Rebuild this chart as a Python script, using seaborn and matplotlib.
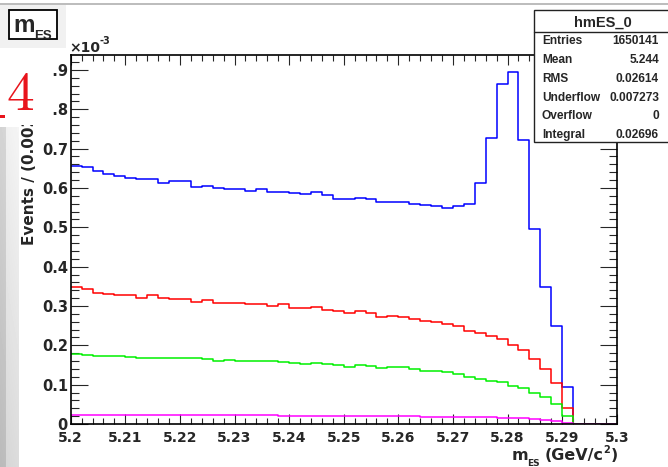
import numpy as np
import pandas as pd
import seaborn as sns
import matplotlib
matplotlib.use("Agg")
import matplotlib.pyplot as plt
from matplotlib.patches import Rectangle
from matplotlib.lines import Line2D
from matplotlib.ticker import MultipleLocator, FixedLocator, FixedFormatter

# ---- binning: 50 bins of 0.002 GeV/c^2 ----
mes_lo, mes_hi, n_bins = 5.20, 5.30, 50

# ---- bin contents (units of 1e-3 events per bin) ----
hmES_0 = [0.656, 0.654, 0.643, 0.636, 0.631, 0.625, 0.622, 0.622, 0.613, 0.617,
          0.617, 0.603, 0.606, 0.600, 0.598, 0.598, 0.592, 0.597, 0.590, 0.590,
          0.588, 0.584, 0.590, 0.582, 0.571, 0.571, 0.575, 0.573, 0.565, 0.565,
          0.565, 0.559, 0.557, 0.555, 0.549, 0.553, 0.560, 0.612, 0.727, 0.865,
          0.896, 0.723, 0.496, 0.347, 0.249, 0.095, 0.0, 0.0, 0.0, 0.0]
hmES_1 = [0.347, 0.343, 0.333, 0.331, 0.329, 0.327, 0.320, 0.327, 0.320, 0.317,
          0.319, 0.310, 0.314, 0.307, 0.307, 0.307, 0.304, 0.305, 0.300, 0.304,
          0.295, 0.295, 0.298, 0.291, 0.288, 0.282, 0.288, 0.283, 0.273, 0.274,
          0.271, 0.266, 0.263, 0.260, 0.255, 0.249, 0.237, 0.232, 0.223, 0.215,
          0.202, 0.188, 0.164, 0.139, 0.105, 0.040, 0.0, 0.0, 0.0, 0.0]
hmES_2 = [0.178, 0.176, 0.174, 0.173, 0.173, 0.171, 0.168, 0.169, 0.167, 0.167,
          0.167, 0.167, 0.164, 0.161, 0.163, 0.160, 0.160, 0.160, 0.160, 0.157,
          0.155, 0.152, 0.156, 0.152, 0.150, 0.146, 0.150, 0.148, 0.142, 0.144,
          0.144, 0.140, 0.134, 0.135, 0.131, 0.127, 0.119, 0.114, 0.109, 0.107,
          0.097, 0.091, 0.080, 0.068, 0.052, 0.020, 0.0, 0.0, 0.0, 0.0]
hmES_3 = [0.023, 0.022, 0.023, 0.023, 0.022, 0.022, 0.023, 0.022, 0.022, 0.023,
          0.022, 0.022, 0.022, 0.022, 0.023, 0.023, 0.022, 0.022, 0.022, 0.021,
          0.021, 0.021, 0.021, 0.020, 0.020, 0.021, 0.020, 0.020, 0.021, 0.020,
          0.020, 0.020, 0.019, 0.019, 0.019, 0.018, 0.018, 0.017, 0.017, 0.016,
          0.015, 0.014, 0.013, 0.010, 0.007, 0.003, 0.0, 0.0, 0.0, 0.0]
series_names = ["hmES_0", "hmES_1", "hmES_2", "hmES_3"]
series_colors = ["#0000ff", "#ff0000", "#00f000", "#ff00ff"]

# ---- axis ticks ----
x_ticks = [5.20, 5.21, 5.22, 5.23, 5.24, 5.25, 5.26, 5.27, 5.28, 5.29, 5.30]
x_ticklabels = ["5.2", "5.21", "5.22", "5.23", "5.24", "5.25", "5.26",
                "5.27", "5.28", "5.29", "5.3"]
y_ticks = [0.0, 0.1, 0.2, 0.3, 0.4, 0.5, 0.6, 0.7, 0.8, 0.9]
y_ticklabels = ["0", "0.1", "0.2", "0.3", "0.4", "0.5", "0.6", "0.7", "0.8", "0.9"]
y_max = 0.938

# ---- statistics box ----
stats_title = "hmES_0"
stats_rows = [("Entries", "1650141"), ("Mean", "5.244"), ("RMS", "0.02614"),
              ("Underflow", "0.007273"), ("Overflow", "0"), ("Integral", "0.02696")]

sns.set_style("ticks")
plt.rcParams["font.family"] = ["DejaVu Sans"]
plt.rcParams["font.weight"] = "bold"
plt.rcParams["axes.linewidth"] = 1.2
BOX_FONT = ["Liberation Sans", "DejaVu Sans"]

W, H = 668, 467
fig = plt.figure(figsize=(W / 100, H / 100), dpi=100)
fig.patch.set_facecolor("white")
renderer = fig.canvas.get_renderer()


def fx(px):
    return px / W


def fy(py):
    return 1 - py / H


def text_run(x0, base, pieces, family=None, zorder=3):
    """Lay out text pieces left to right: (text, size, baseline shift, gap after)."""
    x = x0
    for txt, size, dy, gap in pieces:
        kw = {"family": family} if family else {}
        t = fig.text(fx(x), fy(base + dy), txt, fontsize=size, weight="bold",
                     ha="left", va="baseline", zorder=zorder, **kw)
        x += t.get_window_extent(renderer).width + gap
    return x


edges = np.linspace(mes_lo, mes_hi, n_bins + 1)
centers = 0.5 * (edges[:-1] + edges[1:])
df = pd.DataFrame({"mES": centers, "hmES_0": hmES_0, "hmES_1": hmES_1,
                   "hmES_2": hmES_2, "hmES_3": hmES_3})

ax = fig.add_axes([fx(70.7), fy(424), fx(616.7) - fx(70.7), fy(55) - fy(424)])
for name, color in zip(series_names, series_colors):
    sns.histplot(data=df, x="mES", weights=name, bins=n_bins,
                 binrange=(mes_lo, mes_hi), element="step",
                 fill=False, color=color, linewidth=1.1, ax=ax)

ax.set_xlim(mes_lo, mes_hi)
ax.set_ylim(0, y_max)
ax.set_xlabel("")
ax.set_ylabel("")
ax.xaxis.set_major_locator(FixedLocator(x_ticks))
ax.xaxis.set_major_formatter(FixedFormatter(x_ticklabels))
ax.xaxis.set_minor_locator(MultipleLocator(0.002))
ax.yaxis.set_major_locator(FixedLocator(y_ticks))
ax.yaxis.set_major_formatter(FixedFormatter(y_ticklabels))
ax.yaxis.set_minor_locator(MultipleLocator(0.02))
ax.tick_params(axis="x", which="major", direction="in", length=7.5, width=0.8,
               top=True, bottom=True, labelsize=10, pad=5)
ax.tick_params(axis="x", which="minor", direction="in", length=4, width=0.8,
               top=True, bottom=True)
ax.tick_params(axis="y", which="major", direction="in", length=12, width=0.8,
               left=True, right=True, labelsize=10.5, pad=2)
ax.tick_params(axis="y", which="minor", direction="in", length=6, width=0.8,
               left=True, right=True)
for sp in ax.spines.values():
    sp.set_color("black")
    sp.set_linewidth(1.2)

# exponent above the y axis
text_run(69, 52, [("×10", 10, 0, 0), ("-3", 7, -8, 0)])

# axis titles
fig.text(fx(30), fy(245), "Events / (0.002)", rotation=90, ha="center",
         va="bottom", fontsize=11, weight="bold")
text_run(511.5, 459.5, [("m", 11.5, 0, -1.5), ("ES", 6.5, 6.0, 5.0),
                        ("(GeV/c", 11.5, 0, 0.5), ("2", 7, -6.5, 0.5),
                        (")", 11.5, 0, 0)])

# page decorations: top rule, shaded corner and left edge strip
fig.add_artist(Line2D([0, 1], [fy(4), fy(4)], transform=fig.transFigure,
                      color="#b0b0b0", lw=1.2, zorder=1))
fig.add_artist(Rectangle((0, fy(48)), fx(66), fy(5) - fy(48), transform=fig.transFigure,
                         facecolor="#f1f1f1", edgecolor="none", zorder=1))
strip = fig.add_axes([0, 0, fx(19), fy(127)])
gx = np.linspace(0, 1, 19)
gy = np.linspace(0, 1, 340)[:, None]
shade = 0.93 - 0.10 * gy - np.where(gx < 0.32, 0.10, 0.0)[None, :] + 0.03 * gx[None, :]
strip.imshow(shade, cmap="gray", vmin=0, vmax=1, aspect="auto", interpolation="bilinear")
strip.set_axis_off()

# white panel with the red page number
fig.add_artist(Rectangle((0, fy(125)), fx(53), fy(48) - fy(125), transform=fig.transFigure,
                         facecolor="white", edgecolor="none", zorder=5))
fig.text(fx(6), fy(110), r"$4$", color="#e8141c", fontsize=40, math_fontfamily="cm",
         ha="left", va="baseline", zorder=6)
fig.add_artist(Rectangle((0, fy(117.5)), fx(5), fy(115) - fy(117.5), transform=fig.transFigure,
                         facecolor="#e8141c", edgecolor="none", zorder=6))

# histogram title box
fig.add_artist(Rectangle((fx(9), fy(39.3)), fx(57.3) - fx(9), fy(10) - fy(39.3),
                         transform=fig.transFigure, facecolor="white", edgecolor="black",
                         lw=1.3, zorder=5))
text_run(13.5, 32, [("m", 17.5, 0, -1.0), ("ES", 9.5, 6.8, 0)], family=BOX_FONT, zorder=6)

# statistics box
fig.add_artist(Rectangle((fx(534), fy(142)), 1.05 - fx(534), fy(10) - fy(142),
                         transform=fig.transFigure, facecolor="white", edgecolor="#222222",
                         lw=1.0, zorder=5))
fig.add_artist(Line2D([fx(534), 1], [fy(32.3), fy(32.3)], transform=fig.transFigure,
                      color="#222222", lw=1.0, zorder=6))
fig.text(fx(603), fy(26.7), stats_title, fontsize=10.5, weight="bold", ha="center",
         va="baseline", family=BOX_FONT, zorder=7)
for i, (label, value) in enumerate(stats_rows):
    base = 44.3 + i * 18.8
    fig.text(fx(542), fy(base), label, fontsize=8.6, weight="bold", ha="left",
             va="baseline", family=BOX_FONT, zorder=7)
    fig.text(fx(659), fy(base), value, fontsize=8.6, weight="bold", ha="right",
             va="baseline", family=BOX_FONT, zorder=7)

fig.savefig("out.png", dpi=100, facecolor="white")
